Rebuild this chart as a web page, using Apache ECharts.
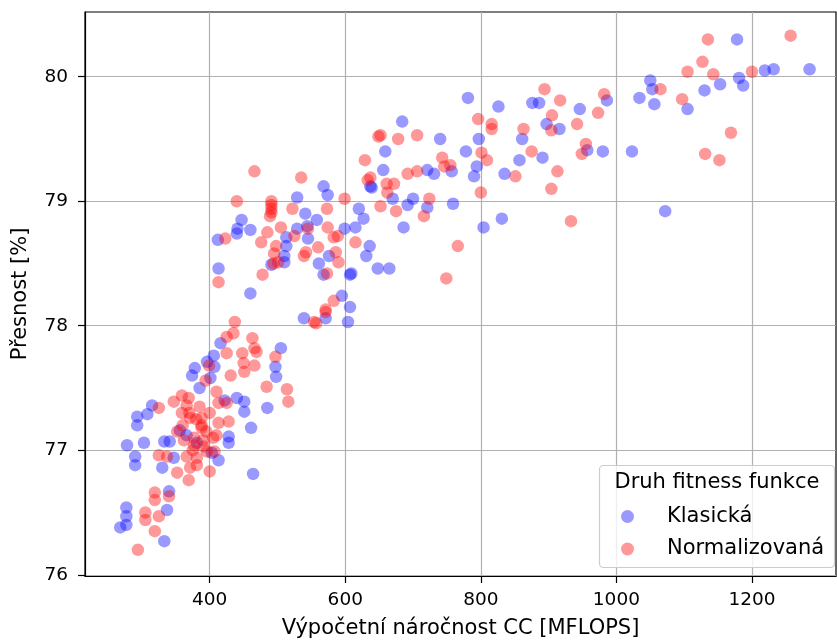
<!DOCTYPE html>
<html>
<head>
<meta charset="utf-8">
<script src="https://cdn.jsdelivr.net/npm/echarts@6/dist/echarts.min.js"></script>
<style>
  html, body { margin: 0; padding: 0; background: #fff; }
  #chart { width: 837px; height: 644px; }
</style>
</head>
<body>
<div id="chart"></div>
<script>
// hodnoty
const xTicks = [400, 600, 800, 1000, 1200]
const yTicks = [76, 77, 78, 79, 80]

const klasickaX = [1178, 1219, 1232, 1285, 1181, 1187, 1153, 1130, 1050, 1053, 1034, 1056, 1105, 1072,
  886, 946, 986, 897, 916, 957, 980, 1023, 891, 781, 826, 876, 684, 740, 797, 861, 857, 835,
  659, 778, 794, 790, 656, 639, 721, 731, 757, 670, 700, 692, 721, 759, 620, 627, 615, 686, 804, 831,
  636, 631, 648, 665, 609, 568, 574, 637, 529, 541, 558, 447, 441, 460, 412, 440, 513, 513, 529, 544,
  545, 599, 491, 510, 510, 561, 576, 568, 607, 413, 460, 595, 607, 571, 539, 604, 416, 406, 505, 497,
  498, 485, 451, 451, 461, 464, 374, 401, 378, 407, 422, 440, 428, 428, 413, 396, 385, 315, 308, 293,
  293, 366, 341, 278, 303, 333, 347, 290, 290, 330, 340, 337, 277, 277, 277, 268, 333, 356, 381, 403]
const klasickaY = [80.30, 80.05, 80.06, 80.06, 79.99, 79.93, 79.94, 79.89, 79.97, 79.90, 79.83, 79.78, 79.74, 78.92,
  79.79, 79.74, 79.81, 79.62, 79.58, 79.41, 79.40, 79.40, 79.35, 79.83, 79.76, 79.79, 79.64, 79.50, 79.50, 79.50, 79.33, 79.22,
  79.40, 79.40, 79.28, 79.20, 79.25, 79.11, 79.25, 79.22, 79.24, 79.02, 79.02, 78.97, 78.95, 78.98, 78.94, 78.86, 78.79, 78.79, 78.79, 78.86,
  78.64, 78.56, 78.46, 78.46, 78.42, 79.12, 79.05, 79.12, 79.03, 78.90, 78.85, 78.85, 78.78, 78.77, 78.69, 78.74, 78.71, 78.64, 78.78, 78.80,
  78.70, 78.78, 78.49, 78.56, 78.51, 78.50, 78.56, 78.41, 78.41, 78.46, 78.26, 78.24, 78.15, 78.06, 78.06, 78.03, 77.86, 77.76, 77.82, 77.67,
  77.59, 77.34, 77.39, 77.31, 77.18, 76.81, 77.60, 77.58, 77.66, 77.67, 77.40, 77.42, 77.11, 77.06, 76.92, 77.71, 77.50, 77.36, 77.29, 77.27,
  77.20, 77.12, 77.07, 77.04, 77.06, 77.07, 76.94, 76.95, 76.88, 76.86, 76.67, 76.52, 76.54, 76.47, 76.40, 76.38, 76.27, 77.16, 77.06, 76.98]

const normalizovanaX = [1135, 1257, 1127, 1105, 1143, 1200, 1065, 1097, 1169, 1131, 1152,
  894, 917, 982, 973, 905, 904, 942, 955, 949, 913, 904, 933, 796, 816, 816, 863, 652, 678, 706,
  875, 851, 801, 809, 800, 629, 637, 633, 661, 672, 662, 692, 706, 743, 755, 746, 724, 652, 675, 716,
  766, 615, 749, 466, 535, 649, 599, 440, 491, 491, 491, 491, 489, 522, 573, 423, 476, 485, 505, 525,
  545, 574, 583, 589, 498, 495, 494, 501, 478, 539, 560, 542, 590, 573, 413, 583, 571, 571, 554, 437,
  586, 557, 435, 425, 463, 425, 466, 469, 448, 497, 450, 466, 451, 431, 484, 514, 516, 394, 399, 413,
  425, 428, 407, 400, 388, 369, 410, 359, 347, 325, 366, 359, 371, 388, 413, 388, 352, 362, 377, 391,
  377, 396, 325, 337, 366, 381, 371, 381, 352, 369, 319, 319, 340, 305, 305, 325, 319, 294,
  370, 380, 395, 405, 385, 360, 400, 375, 390, 410]
const normalizovanaY = [80.30, 80.33, 80.12, 80.04, 80.02, 80.04, 79.90, 79.82, 79.55, 79.38, 79.33,
  79.90, 79.81, 79.86, 79.71, 79.69, 79.57, 79.62, 79.46, 79.38, 79.24, 79.10, 78.84, 79.66, 79.62, 79.58, 79.58, 79.53, 79.50, 79.53,
  79.40, 79.20, 79.39, 79.33, 79.07, 79.33, 79.19, 79.17, 79.14, 79.14, 79.07, 79.22, 79.24, 79.35, 79.29, 79.28, 79.02, 78.96, 78.92, 78.88,
  78.64, 78.67, 78.38, 79.24, 79.19, 79.52, 79.02, 79.00, 79.00, 78.97, 78.94, 78.91, 78.88, 78.94, 78.94, 78.70, 78.67, 78.75, 78.79, 78.72,
  78.78, 78.79, 78.71, 78.72, 78.64, 78.58, 78.50, 78.51, 78.41, 78.56, 78.63, 78.59, 78.51, 78.42, 78.35, 78.20, 78.13, 78.11, 78.03, 78.03,
  78.59, 78.02, 77.94, 77.91, 77.90, 77.78, 77.82, 77.79, 77.78, 77.75, 77.70, 77.68, 77.63, 77.60, 77.51, 77.49, 77.39, 77.56, 77.68, 77.38,
  77.38, 77.23, 76.99, 76.83, 77.26, 77.42, 77.47, 77.44, 77.39, 77.34, 77.36, 77.30, 77.26, 77.20, 77.22, 77.18, 77.15, 77.08, 77.10, 77.03,
  77.04, 76.99, 76.96, 76.95, 76.95, 76.94, 76.86, 76.88, 76.82, 76.76, 76.66, 76.60, 76.63, 76.50, 76.44, 76.47, 76.35, 76.20,
  77.30, 77.25, 77.15, 77.10, 77.35, 77.20, 77.30, 77.00, 77.08, 77.12]

const font = 'DejaVu Sans'

function zip(xs, ys) {
  return xs.map((x, i) => [x, ys[i]])
}

const option = {
  animation: false,
  textStyle: { fontFamily: font },
  grid: {
    left: 85, top: 12, right: 1, bottom: 66,
    show: true, borderColor: '#000', borderWidth: 1.2
  },
  xAxis: {
    type: 'value',
    min: 216, max: 1324,
    name: 'Výpočetní náročnost CC [MFLOPS]',
    nameLocation: 'middle',
    nameGap: 42,
    nameTextStyle: { fontFamily: font, fontSize: 21, color: '#000' },
    axisLine: { lineStyle: { color: '#000', width: 1.2 } },
    axisTick: { length: 7, inside: false, customValues: xTicks, lineStyle: { color: '#000', width: 1.2 } },
    axisLabel: { customValues: xTicks, margin: 15, fontFamily: font, fontSize: 18.5, color: '#000', formatter: v => String(v) },
    splitLine: { show: true, lineStyle: { color: '#b0b0b0', width: 1.2 } }
  },
  yAxis: {
    type: 'value',
    min: 75.99, max: 80.52,
    name: 'Přesnost [%]',
    nameLocation: 'middle',
    nameGap: 54,
    nameTextStyle: { fontFamily: font, fontSize: 21, color: '#000' },
    axisLine: { show: true, lineStyle: { color: '#000', width: 1.2 } },
    axisTick: { show: true, length: 7, customValues: yTicks, lineStyle: { color: '#000', width: 1.2 } },
    axisLabel: { customValues: yTicks, margin: 17, fontFamily: font, fontSize: 18.5, color: '#000', formatter: v => String(v) },
    splitLine: { show: true, lineStyle: { color: '#b0b0b0', width: 1.2 } }
  },
  legend: {
    orient: 'vertical',
    left: 621, top: 506,
    padding: 0,
    itemWidth: 13, itemHeight: 13,
    itemGap: 11.5,
    icon: 'circle',
    textStyle: { fontFamily: font, fontSize: 21, color: '#000', padding: [0, 0, 0, 28] },
    data: ['Klasická', 'Normalizovaná']
  },
  graphic: [
    {
      type: 'rect', z: 1,
      shape: { x: 599.5, y: 465.5, width: 235, height: 102, r: 4 },
      style: { fill: 'rgba(255,255,255,0.8)', stroke: '#cccccc', lineWidth: 1.2 }
    },
    {
      type: 'text', z: 2,
      x: 717, y: 483,
      style: {
        text: 'Druh fitness funkce',
        font: '21px "DejaVu Sans"',
        fill: '#000',
        align: 'center',
        verticalAlign: 'middle'
      }
    }
  ],
  series: [
    {
      name: 'Klasická',
      type: 'scatter',
      symbolSize: 12.5,
      itemStyle: { color: 'rgba(0,0,255,0.5)' },
      emphasis: { disabled: true },
      data: zip(klasickaX, klasickaY)
    },
    {
      name: 'Normalizovaná',
      type: 'scatter',
      symbolSize: 12.5,
      itemStyle: { color: 'rgba(255,0,0,0.5)' },
      emphasis: { disabled: true },
      data: zip(normalizovanaX, normalizovanaY)
    }
  ]
}

const chart = echarts.init(document.getElementById('chart'))
chart.setOption(option)
</script>
</body>
</html>
